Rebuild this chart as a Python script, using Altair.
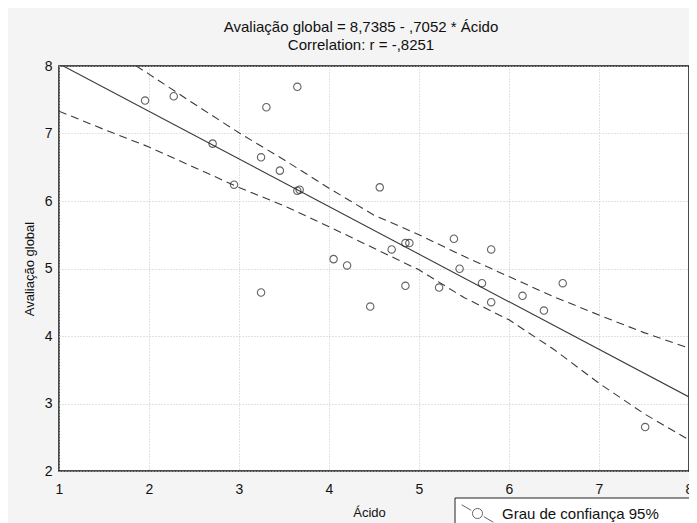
import altair as alt
import pandas as pd

# scatter points
acido = [1.956, 2.275, 2.707, 2.945, 3.304, 3.245, 3.454, 3.648, 3.648, 3.674,
         3.245, 4.051, 4.201, 4.458, 4.564, 4.696, 4.849, 4.893, 4.849, 5.223,
         5.388, 5.451, 5.700, 5.802, 5.802, 6.150, 6.388, 6.597, 7.513]
avaliacao = [7.488, 7.552, 6.850, 6.242, 7.389, 6.647, 6.450, 7.691, 6.153, 6.168,
             4.644, 5.139, 5.045, 4.436, 6.202, 5.282, 5.377, 5.377, 4.743, 4.718,
             5.441, 4.996, 4.783, 5.282, 4.501, 4.595, 4.377, 4.783, 2.651]

# fitted line (from the title equation)
intercept = 8.7385
slope = -0.7052
line_x = [1, 8]

# 95% confidence band
band_x = [1, 1.5, 2, 2.5, 3, 3.5, 4, 4.5, 5, 5.5, 6, 6.5, 7, 7.5, 8]
band_upper = [8.72, 8.30, 7.88, 7.44, 7.01, 6.61, 6.19, 5.79, 5.50, 5.18, 4.88, 4.58, 4.31, 4.05, 3.82]
band_lower = [7.33, 7.06, 6.80, 6.50, 6.20, 5.93, 5.62, 5.30, 4.98, 4.57, 4.24, 3.80, 3.30, 2.85, 2.46]

x_ticks = [1, 2, 3, 4, 5, 6, 7, 8]
y_ticks = [2, 3, 4, 5, 6, 7, 8]
legend_label = "Grau de confiança 95%"

FONT = "Liberation Sans"

pts = pd.DataFrame({"x": acido, "y": avaliacao, "k": [legend_label] * len(acido)})
ln = pd.DataFrame({"x": line_x, "y": [intercept + slope * v for v in line_x]})
bd = pd.DataFrame({"x": band_x, "upper": band_upper, "lower": band_lower})
one = pd.DataFrame({"a": [0]})

xscale = alt.Scale(domain=[1, 8], nice=False, zero=False)
yscale = alt.Scale(domain=[2, 8], nice=False, zero=False)

xaxis = alt.Axis(values=x_ticks, format="d", title="Ácido", grid=True, gridDash=[1, 2],
                 gridColor="#c4c4c4", ticks=False, domain=False, labelPadding=11,
                 labelFontSize=14, titleFontSize=13, titleFontWeight="normal",
                 titlePadding=10, titleX=310, labelFlush=False, labelFont=FONT, titleFont=FONT,
                 labelColor="#111111", titleColor="#111111")
yaxis = alt.Axis(values=y_ticks, format="d", title="Avaliação global", grid=True, gridDash=[1, 2],
                 gridColor="#c4c4c4", ticks=False, domain=False, labelPadding=7,
                 labelFontSize=14, titleFontSize=13, titleFontWeight="normal",
                 titlePadding=8, labelFlush=False, labelFont=FONT, titleFont=FONT,
                 labelColor="#111111", titleColor="#111111")

# legend frame (extends past the right edge as in the reference)
frame = alt.Chart(one).mark_rect(fill="white", stroke="#222222", strokeWidth=1,
                                 clip=False).encode(
    x=alt.value(396), x2=alt.value(700), y=alt.value(432), y2=alt.value(470))

points = alt.Chart(pts).mark_point(shape="circle", filled=False, size=55,
                                   strokeWidth=1.1, clip=True).encode(
    x=alt.X("x:Q", scale=xscale, axis=xaxis),
    y=alt.Y("y:Q", scale=yscale, axis=yaxis),
    color=alt.Color("k:N", scale=alt.Scale(domain=[legend_label], range=["#222222"]),
                    legend=alt.Legend(
                        title=None, orient="none", legendX=400, legendY=429,
                        padding=2,
                        labelFont=FONT, labelFontSize=15, labelColor="#111111",
                        labelLimit=400,
                        symbolType="M-1,-0.55L-0.4,-0.2M0.4,0.2L1,0.55M0.32,0A0.32,0.32 0 1 1 -0.32,0A0.32,0.32 0 1 1 0.32,0",
                        symbolSize=1000, symbolStrokeWidth=1, symbolFillColor="transparent",
                        symbolStrokeColor="#222222", labelOffset=8)),
)

fit = alt.Chart(ln).mark_line(color="#3a3a3a", strokeWidth=1.1, clip=True).encode(
    x=alt.X("x:Q", scale=xscale), y=alt.Y("y:Q", scale=yscale))

upper = alt.Chart(bd).mark_line(color="#3a3a3a", strokeWidth=1.1, strokeDash=[8, 5],
                                clip=True).encode(
    x=alt.X("x:Q", scale=xscale), y=alt.Y("upper:Q", scale=yscale))
lower = alt.Chart(bd).mark_line(color="#3a3a3a", strokeWidth=1.1, strokeDash=[8, 5],
                                clip=True).encode(
    x=alt.X("x:Q", scale=xscale), y=alt.Y("lower:Q", scale=yscale))

chart = alt.layer(fit, upper, lower, points, frame).properties(
    width=630, height=405,
    title=alt.TitleParams(["Avaliação global = 8,7385 - ,7052  * Ácido",
                           "Correlation: r = -,8251"],
                          font=FONT, fontSize=15, fontWeight="normal", color="#111111",
                          anchor="middle", dx=-13, offset=6, lineHeight=18),
    autosize=alt.AutoSizeParams(type="none"),
    padding={"left": 51, "top": 58, "right": 0, "bottom": 52},
    background="#f4f4f4",
).configure_view(stroke="#111111", strokeWidth=1.5, fill="white")

chart.save("out.html", embed_options={"renderer": "svg", "actions": False})
